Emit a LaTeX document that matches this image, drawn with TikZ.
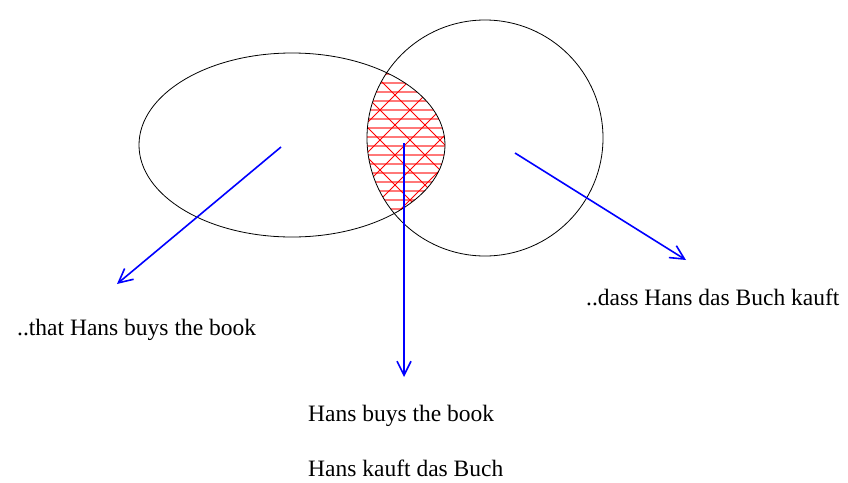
\documentclass[tikz,border=0pt]{standalone}
\usepackage{fontspec}
\setmainfont{Liberation Serif}
\usetikzlibrary{arrows.meta}
\definecolor{hatchpink}{RGB}{255,120,120}
\begin{document}
\begin{tikzpicture}[x=1pt,y=-1pt,
  outline/.style={draw=black,line width=0.8pt},
  hatch/.style={draw=red,line width=0.9pt},
  hatchh/.style={fill=hatchpink},
  pointer/.style={draw=blue,line width=1.6pt,-{Straight Barb[length=14pt,width=14pt,line width=1.6pt]}},
  label/.style={anchor=base west,inner sep=0pt,font=\fontsize{23.5}{27}\selectfont}]
\useasboundingbox (0,0) rectangle (848,482);
% hatching of intersection
\begin{scope}
  \clip (292,145) ellipse [x radius=153, y radius=92];
  \clip (485,138) circle [radius=118];
  \foreach \y in {64,73,...,210} \path[hatchh] (360,\y) rectangle (460,\y+2);
  \foreach \k in {-200,-170,...,250} \draw[hatch] (300+\k,40) -- (500+\k,240);
  \foreach \k in {-200,-170,...,250} \draw[hatch] (500+\k,40) -- (300+\k,240);
\end{scope}
\draw[outline] (292,145) ellipse [x radius=153, y radius=92];
\draw[outline] (485,138) circle [radius=118];
\coordinate (a1) at (281,147);
\coordinate (a2) at (117,284);
\coordinate (b1) at (404,143);
\coordinate (b2) at (404,377);
\coordinate (c1) at (515,153);
\coordinate (c2) at (686,260);
\draw[pointer] (a1) -- (a2);
\draw[pointer] (b1) -- (b2);
\draw[pointer] (c1) -- (c2);
\node[label] (t1) at (17,335) {..that Hans buys the book};
\node[label] (t2) at (586,305) {..dass Hans das Buch kauft};
\node[label] (t3) at (308,421) {Hans buys the book};
\node[label] (t4) at (308,476) {Hans kauft das Buch};
\end{tikzpicture}
\end{document}
